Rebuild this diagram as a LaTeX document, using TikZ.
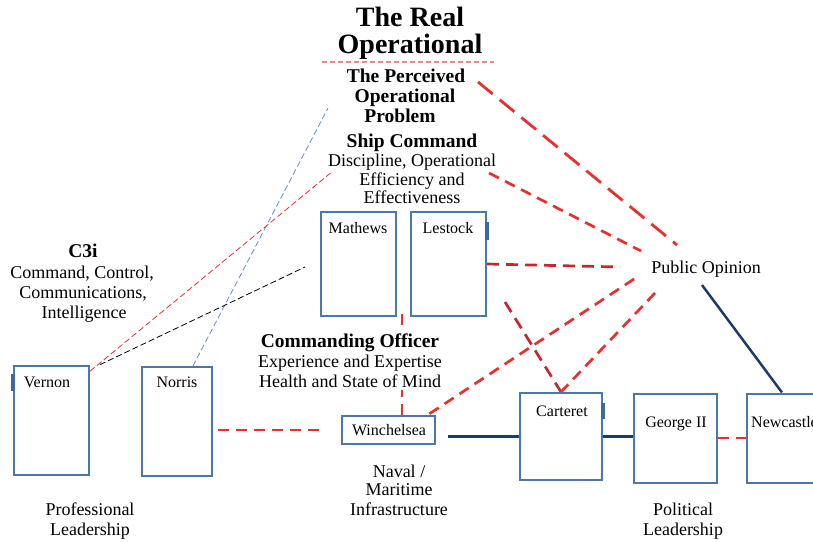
\documentclass[tikz,border=0pt]{standalone}
\usepackage{fontspec}
\setmainfont{Liberation Serif}
\usetikzlibrary{backgrounds,calc}
\definecolor{boxblue}{HTML}{4A78A8}
\definecolor{markblue}{HTML}{3D6A9A}
\definecolor{navy}{HTML}{1F3A6E}
\definecolor{redA}{HTML}{E8312F}
\definecolor{redB}{HTML}{C9252F}
\definecolor{pinkA}{HTML}{E88A8A}
\definecolor{lineblue}{HTML}{5B8FD4}
\begin{document}
\begin{tikzpicture}[x=1pt,y=-1pt,
  box/.style={draw=boxblue,line width=2pt,inner sep=0pt},
  boxmark/.style={draw=markblue,line width=4pt},
  boxlabel/.style={font=\fontsize{16}{19}\selectfont,anchor=base,inner sep=0pt},
  txt/.style={font=\fontsize{18}{21}\selectfont,anchor=base,inner sep=0pt},
  head/.style={font=\fontsize{19.5}{22}\selectfont\bfseries,anchor=base,inner sep=0pt},
  titletxt/.style={font=\fontsize{28}{30}\selectfont\bfseries,anchor=base,inner sep=0pt},
  hide/.style={fill=white,inner xsep=1pt,inner ysep=3pt},
  thinblue/.style={draw=lineblue,line width=0.8pt,dash pattern=on 6pt off 3pt},
  thinred/.style={draw=redA,line width=0.8pt,dash pattern=on 6pt off 3pt},
  thinblack/.style={draw=black,line width=0.8pt,dash pattern=on 6pt off 3pt},
  redthick/.style={draw=redA,line width=2.7pt,dash pattern=on 11pt off 7pt},
  redthickdark/.style={draw=redB,line width=2.7pt,dash pattern=on 12pt off 7pt},
  redlong/.style={draw=redA,line width=2.8pt,dash pattern=on 19pt off 9pt},
  navyline/.style={draw=navy,line width=2.5pt},
  pinkdash/.style={draw=pinkA,line width=1.2pt,dash pattern=on 5pt off 3pt}
]
\useasboundingbox (0,0) rectangle (813,541);

% boxes
\node[box,minimum width=75pt,minimum height=109pt] (Vernon) at (51.5,420.5) {};
\node[box,minimum width=70pt,minimum height=109pt] (Norris) at (177,421.5) {};
\node[box,minimum width=75pt,minimum height=104pt] (Mathews) at (358,264) {};
\node[box,minimum width=75pt,minimum height=104pt] (Lestock) at (448.5,264) {};
\node[box,minimum width=93pt,minimum height=28pt] (Winchelsea) at (388.5,430) {};
\node[box,minimum width=82pt,minimum height=87pt] (Carteret) at (561,436.5) {};
\node[box,minimum width=83pt,minimum height=89pt] (George) at (675.5,438) {};
\node[box,minimum width=70pt,minimum height=89pt] (Newcastle) at (782,438) {};

\draw[boxmark] ([yshift=-9pt]Vernon.north west) -- ([yshift=-26pt]Vernon.north west);
\draw[boxmark] ([yshift=-11pt]Lestock.north east) -- ([yshift=-29pt]Lestock.north east);
\draw[boxmark] ([yshift=-11pt]Carteret.north east) -- ([yshift=-27pt]Carteret.north east);

% box labels
\node[boxlabel] (lV) at (47,387) {Vernon};
\node[boxlabel] (lN) at (177,387) {Norris};
\node[boxlabel] (lM) at (358,233) {Mathews};
\node[boxlabel] (lL) at (448,233) {Lestock};
\node[boxlabel] (lW) at (389,435) {Winchelsea};
\node[boxlabel] (lC) at (562,416) {Carteret};
\node[boxlabel] (lG) at (676,427) {George II};
\node[boxlabel,anchor=base west] (lNc) at (751,427) {Newcastle};

% texts
\node[titletxt] (t1) at (410,26) {The Real};
\node[titletxt] (t2) at (410,53) {Operational};
\node[head] (p1) at (406,82) {The Perceived};
\node[head] (p2) at (405,102) {Operational};
\node[head] (p3) at (400,122) {Problem};
\node[head] (s1) at (412,147) {Ship Command};
\node[txt] (s2) at (412,166) {Discipline, Operational};
\node[txt] (s3) at (412,185) {Efficiency and};
\node[txt] (s4) at (412,203) {Effectiveness};
\node[head] (c1) at (83,257) {C3i};
\node[txt] (c2) at (82,278) {Command, Control,};
\node[txt] (c3) at (83,298) {Communications,};
\node[txt] (c4) at (84,318) {Intelligence};
\node[head,hide] (o1) at (350,347) {Commanding Officer};
\node[txt,hide] (o2) at (350,367) {Experience and Expertise};
\node[txt,hide] (o3) at (350,387) {Health and State of Mind};
\node[txt] (po) at (706,273) {Public Opinion};
\node[txt] (n1) at (399,477) {Naval /};
\node[txt] (n2) at (399,495) {Maritime};
\node[txt] (n3) at (399,515) {Infrastructure};
\node[txt] (pr1) at (90,515) {Professional};
\node[txt] (pr2) at (90,535) {Leadership};
\node[txt] (pl1) at (683,515) {Political};
\node[txt] (pl2) at (683,535) {Leadership};

% free ends
\coordinate (u1) at (322,62);
\coordinate (u2) at (494,62);
\coordinate (bl) at (328,108);
\coordinate (rl) at (333,171);
\coordinate (kl) at (305,267);
\coordinate (a1) at (478,82);
\coordinate (a2) at (677,245);
\coordinate (d1) at (489,173);
\coordinate (d2) at (641,251);
\coordinate (e2) at (620,267);
\coordinate (f1) at (505,302);
\coordinate (g1) at (634,279);
\coordinate (h1) at (655,293);
\coordinate (v1) at (402,314);
\coordinate (n0) at (702,285);

\begin{scope}[on background layer]
\draw[pinkdash] (u1) -- (u2);
\draw[thinblue] (Norris.74) -- (bl);
\draw[thinred] (Vernon.52) -- (rl);
\draw[thinblack,shorten <=11pt] (Vernon.53) -- (kl);
\draw[redlong] (a1) -- (a2);
\draw[redthick] (d1) -- (d2);
\draw[redthickdark] (Lestock.east) -- (e2);
\draw[redthickdark] (f1) -- (Carteret.north);
\draw[redthick] (g1) -- (Winchelsea.21);
\draw[redthick] (h1) -- (Carteret.north);
\draw[redthick] (v1) -- (v1 |- Winchelsea.north);
\draw[redthick,shorten <=5pt,shorten >=18pt] (Winchelsea.west -| Norris.east) -- (Winchelsea.west);
\draw[redthick] (George.east) -- (Newcastle.west);
\draw[navyline,shorten <=12pt] (Winchelsea.east |- Carteret.west) -- (Carteret.west);
\draw[navyline] (Carteret.east) -- (Carteret.east -| George.west);
\draw[navyline] (n0) -- (Newcastle.north);
\end{scope}
\end{tikzpicture}
\end{document}
